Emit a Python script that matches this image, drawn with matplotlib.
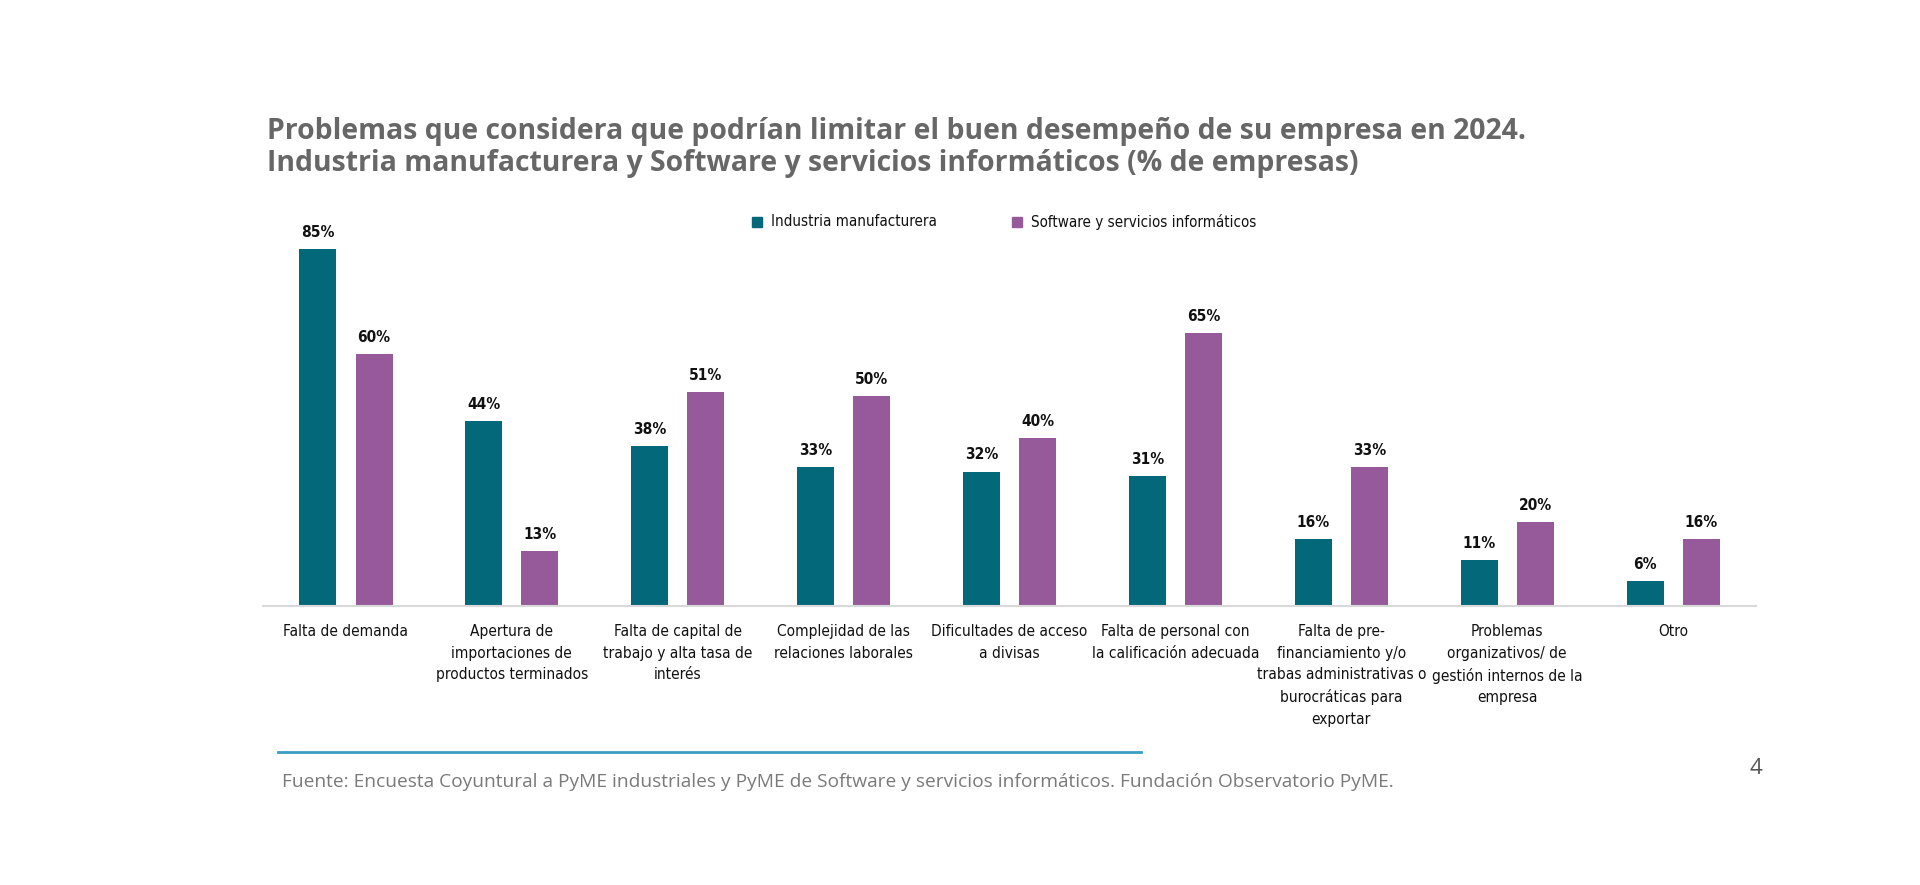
import numpy as np
import matplotlib.pyplot as plt
from matplotlib.lines import Line2D
from matplotlib.patches import Rectangle
from matplotlib import font_manager

# data
categorias = ["Falta de demanda",
              "Apertura de\nimportaciones de\nproductos terminados",
              "Falta de capital de\ntrabajo y alta tasa de\ninterés",
              "Complejidad de las\nrelaciones laborales",
              "Dificultades de acceso\na divisas",
              "Falta de personal con\nla calificación adecuada",
              "Falta de pre-\nfinanciamiento y/o\ntrabas administrativas o\nburocráticas para\nexportar",
              "Problemas\norganizativos/ de\ngestión internos de la\nempresa",
              "Otro"]
industria = [85, 44, 38, 33, 32, 31, 16, 11, 6]
software = [60, 13, 51, 50, 40, 65, 33, 20, 16]
series = ["Industria manufacturera", "Software y servicios informáticos"]

c_ind = "#04687B"
c_sw = "#965A9B"

# condensed sans if there is one, else plain Liberation Sans a bit smaller
have_cond = any(f.name == 'DejaVu Sans' and f.stretch in ('condensed', 600 - 100, 300)
                for f in font_manager.fontManager.ttflist if 'Condensed' in f.fname)
if have_cond:
    tfont = dict(family='DejaVu Sans', fontstretch='condensed')
    sz = 11.1
else:
    tfont = dict(family='Liberation Sans')
    sz = 10.0

fig = plt.figure(figsize=(19.2, 8.85), dpi=100)
ax = fig.add_axes([0.137, 0.3153, 0.7776, 0.4745])

x = np.arange(len(categorias))
w = 0.223
off = 0.169
b1 = ax.bar(x - off, industria, w, color=c_ind)
b2 = ax.bar(x + off, software, w, color=c_sw)

for bars, vals in [(b1, industria), (b2, software)]:
    for b, v in zip(bars, vals):
        ax.text(b.get_x() + b.get_width() / 2, v + 2.2, f"{v}%", ha='center', va='bottom',
                fontsize=sz, fontweight='bold', color='#111111', **tfont)

ax.set_xlim(-0.5, 8.5)
ax.set_ylim(0, 100)
for s in ['top', 'right', 'left']:
    ax.spines[s].set_visible(False)
ax.spines['bottom'].set_color('#d9d9d9')
ax.spines['bottom'].set_linewidth(1.5)
ax.set_yticks([])
ax.set_xticks(x)
ax.set_xticklabels(categorias, fontsize=sz, color='#111111', linespacing=1.55, **tfont)
ax.tick_params(axis='x', length=0, pad=13)

# legend
for lx, lab, col in [(757, series[0], c_ind), (1017, series[1], c_sw)]:
    fig.patches.append(Rectangle(((lx - 5) / 1920, 1 - 227 / 885), 10 / 1920, 10 / 885,
                                 transform=fig.transFigure, color=col))
    fig.text((lx + 14) / 1920, 1 - 222 / 885, lab, fontsize=sz - 0.2,
             color='#111111', va='center', ha='left', **tfont)

# title
tkw = dict(fontsize=20.4, fontweight='bold', family=['Open Sans', 'DejaVu Sans'],
           color='#676767', va='center', ha='left')
fig.text(267 / 1920, 1 - 131 / 885,
         "Problemas que considera que podrían limitar el buen desempeño de su empresa en 2024.", **tkw)
fig.text(267 / 1920, 1 - 164 / 885,
         "Industria manufacturera y Software y servicios informáticos (% de empresas)", **tkw)

# footer
fig.add_artist(Line2D([278 / 1920, 1141 / 1920], [1 - 752 / 885, 1 - 752 / 885],
                      color='#3A9EC2', linewidth=2))
fig.text(282 / 1920, 1 - 782 / 885,
         "Fuente: Encuesta Coyuntural a PyME industriales y PyME de Software y servicios informáticos. Fundación Observatorio PyME.",
         fontsize=13.8, family=['Open Sans', 'DejaVu Sans'], color='#7a7a7a', va='center', ha='left')
fig.text(1749 / 1920, 1 - 769 / 885, "4", fontsize=16, family=['Open Sans', 'DejaVu Sans'],
         color='#555555', va='center', ha='left')

fig.savefig("out.png", dpi=100, facecolor='white')
